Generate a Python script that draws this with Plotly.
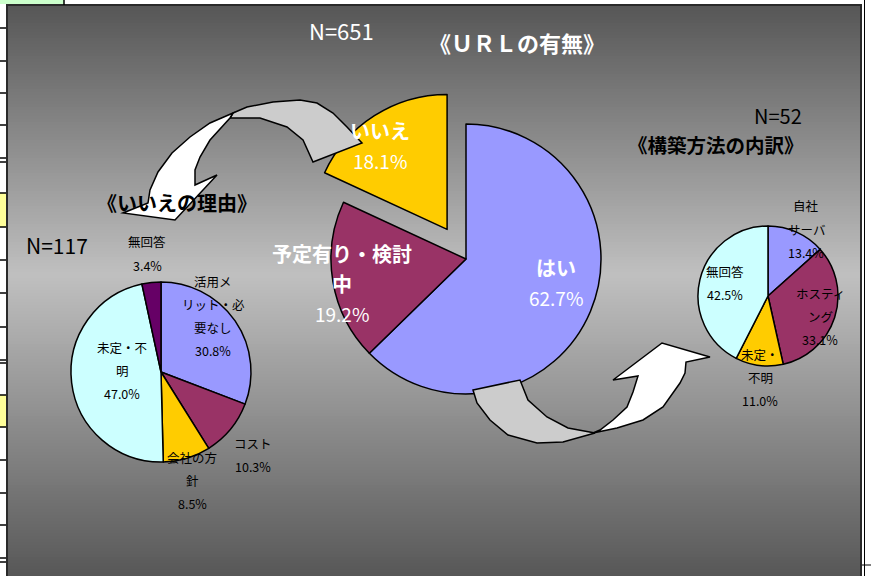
import plotly.graph_objects as go

W, H = 871, 576

# ---------------- data ----------------
url_title = "《ＵＲＬの有無》"
url_n = "N=651"
url_labels = ["はい", "予定有り・検討中", "いいえ"]
url_wrapped = ["はい", "予定有り・検討\n中", "いいえ"]
url_values = [62.7, 19.2, 18.1]

reason_title = "《いいえの理由》"
reason_n = "N=117"
reason_labels = ["活用メリット・必要なし", "コスト", "会社の方針", "未定・不明", "無回答"]
reason_wrapped = ["活用メ\nリット・必\n要なし", "コスト", "会社の方\n針", "未定・不\n明", "無回答"]
reason_values = [30.8, 10.3, 8.5, 47.0, 3.4]

method_title = "《構築方法の内訳》"
method_n = "N=52"
method_labels = ["自社サーバ", "ホスティング", "未定・不明", "無回答"]
method_wrapped = ["自社\nサーバ", "ホスティ\nング", "未定・\n不明", "無回答"]
method_values = [13.4, 33.1, 11.0, 42.5]

# ---------------- styles / layout ----------------
BLUE, MAROON, YELLOW, CYAN, PURPLE = "#9999FF", "#993366", "#FFCC00", "#CCFFFF", "#660066"
FONT = "Noto Sans CJK JP"


def px(x):
    return x / W


def py(y):
    return 1 - y / H


def dom(cx, cy, half):
    return dict(x=[(cx - half) / W, (cx + half) / W], y=[1 - (cy + half) / H, 1 - (cy - half) / H])


pie_line = dict(color="black", width=1.5)
MAIN_R, MAIN_PULL = 135, 0.26

fig = go.Figure()
fig.add_trace(go.Pie(
    labels=url_labels, values=url_values, sort=False, direction="clockwise", rotation=0,
    pull=[0, 0, MAIN_PULL], marker=dict(colors=[BLUE, MAROON, YELLOW], line=pie_line),
    textinfo="none", showlegend=False, domain=dom(466, 259, MAIN_R * (1 + MAIN_PULL))))
fig.add_trace(go.Pie(
    labels=reason_labels, values=reason_values, sort=False, direction="clockwise", rotation=0,
    marker=dict(colors=[BLUE, MAROON, YELLOW, CYAN, PURPLE], line=pie_line),
    textinfo="none", showlegend=False, domain=dom(161, 372, 90)))
fig.add_trace(go.Pie(
    labels=method_labels, values=method_values, sort=False, direction="clockwise", rotation=0,
    marker=dict(colors=[BLUE, MAROON, YELLOW, CYAN], line=pie_line),
    textinfo="none", showlegend=False, domain=dom(768, 296, 70)))

shapes = []

# gradient background of the chart area (dark - light - dark)
TOP, BOT, LEFT, RIGHT, MID = 5, 580, 7, 861, 275
dark, light = 86, 192
y = TOP
step = 3
while y < BOT:
    yc = y + step / 2
    if yc <= MID:
        t = (yc - TOP) / (MID - TOP)
    else:
        t = (BOT - yc) / (BOT - MID)
    v = int(round(dark + (light - dark) * t))
    col = f"rgb({v},{v},{v})"
    shapes.append(dict(type="rect", xref="paper", yref="paper", x0=px(LEFT), x1=px(RIGHT),
                       y0=py(min(y + step + 0.5, BOT)), y1=py(y), fillcolor=col,
                       line=dict(width=0), layer="below"))
    y += step

# chart frame
shapes.append(dict(type="rect", xref="paper", yref="paper", x0=px(LEFT), x1=px(RIGHT),
                   y0=py(BOT), y1=py(TOP), line=dict(color="#2a2a2a", width=2), layer="below"))

# spreadsheet cells around the chart
shapes.append(dict(type="rect", xref="paper", yref="paper", x0=0, x1=px(64), y0=py(4), y1=1,
                   fillcolor="#CCFFCC", line=dict(width=0), layer="below"))
shapes.append(dict(type="line", xref="paper", yref="paper", x0=px(64), x1=px(64), y0=py(5), y1=1,
                   line=dict(color="black", width=1.5), layer="below"))
for (a, b) in [(193, 227), (395, 427)]:
    shapes.append(dict(type="rect", xref="paper", yref="paper", x0=0, x1=px(6), y0=py(b), y1=py(a),
                       fillcolor="#FFFF99", line=dict(width=0), layer="below"))
for yy in [28, 61, 93, 125, 158, 162, 193, 227, 260, 293, 327, 360, 363, 395, 427, 460, 493, 525, 558, 562]:
    shapes.append(dict(type="line", xref="paper", yref="paper", x0=0, x1=px(6), y0=py(yy), y1=py(yy),
                       line=dict(color="black", width=1.5), layer="below"))
shapes.append(dict(type="line", xref="paper", yref="paper", x0=px(864.5), x1=px(864.5), y0=0, y1=1,
                   line=dict(color="black", width=1), layer="below"))
shapes.append(dict(type="line", xref="paper", yref="paper", x0=px(862), x1=1, y0=py(565), y1=py(565),
                   line=dict(color="black", width=1), layer="below"))


def path(pts):
    return "M " + " L ".join(f"{px(x):.5f},{py(y):.5f}" for x, y in pts) + " Z"


arrow_line = dict(color="black", width=1.5)
# upper curved arrow (URL pie -> reasons pie)
up_back = [(233, 113), (247, 107), (273, 102), (300, 100), (317, 103), (333, 113), (347, 127),
           (362, 143), (313, 162), (303, 140), (287, 127), (260, 118), (230, 118)]
up_front = [(233, 113), (210, 123), (190, 137), (172, 153), (158, 172), (150, 190), (148, 203),
            (123, 213), (175, 220), (217, 175), (195, 185), (195, 170), (200, 157), (210, 140), (230, 118)]
# lower curved arrow (URL pie -> method pie)
lo_back = [(473, 390), (520, 380), (528, 400), (547, 417), (568, 428), (595, 433),
           (563, 442), (537, 443), (508, 435), (490, 420), (477, 403)]
lo_front = [(593, 433), (617, 428), (643, 420), (663, 407), (680, 383), (685, 373), (686, 362),
            (710, 357), (662, 343), (613, 380), (638, 376), (633, 392), (627, 407), (613, 420), (600, 430)]
for pts, fill in [(up_back, "#CCCCCC"), (up_front, "white"), (lo_back, "#CCCCCC"), (lo_front, "white")]:
    shapes.append(dict(type="path", xref="paper", yref="paper", path=path(pts), fillcolor=fill,
                       line=arrow_line, layer="above"))

annotations = []


def txt(text, x, y, size, color, bold=False):
    annotations.append(dict(text=text, x=px(x), y=py(y), xref="paper", yref="paper",
                            xanchor="center", yanchor="middle", showarrow=False, borderpad=0,
                            font=dict(family=FONT, size=size, color=color,
                                      weight="bold" if bold else "normal")))


def pie_labels(wrapped, values, positions, step, size, color, bold_name=False, name_size=None):
    for lab, val, (x, y0) in zip(wrapped, values, positions):
        lines = lab.split("\n")
        for i, ln in enumerate(lines):
            txt(ln, x, y0 + i * step, name_size or size, color, bold_name)
        txt(f"{val:.1f}%", x, y0 + len(lines) * step, size, color)


# main pie labels
pie_labels(url_wrapped, url_values, [(556, 267), (342, 253), (380, 130)], 30, 19, "white",
           bold_name=True, name_size=20)
# reasons pie labels
pie_labels(reason_wrapped, reason_values,
           [(213, 281), (253, 443), (192, 457), (122, 347), (147, 242)], 23, 12.5, "black")
# method pie labels
pie_labels(method_wrapped, method_values,
           [(806, 206), (820, 293), (760, 354), (725, 271)], 23, 12.5, "black")

# titles and N
txt(url_n, 341, 30, 22, "white")
txt(url_title, 517, 42, 22, "white", True)
txt(method_n, 778, 115, 20, "black")
txt(method_title, 716, 144, 19.5, "black", True)
txt(reason_title, 177, 202, 20, "black", True)
txt(reason_n, 57, 245, 21, "black")

fig.update_layout(
    width=W, height=H, margin=dict(l=0, r=0, t=0, b=0),
    paper_bgcolor="white", plot_bgcolor="white",
    font=dict(family=FONT),
    shapes=shapes, annotations=annotations, showlegend=False,
)

fig.write_html("out.html", config={"displayModeBar": False},
               post_script="document.body.style.margin='0';document.body.style.overflow='hidden';")
